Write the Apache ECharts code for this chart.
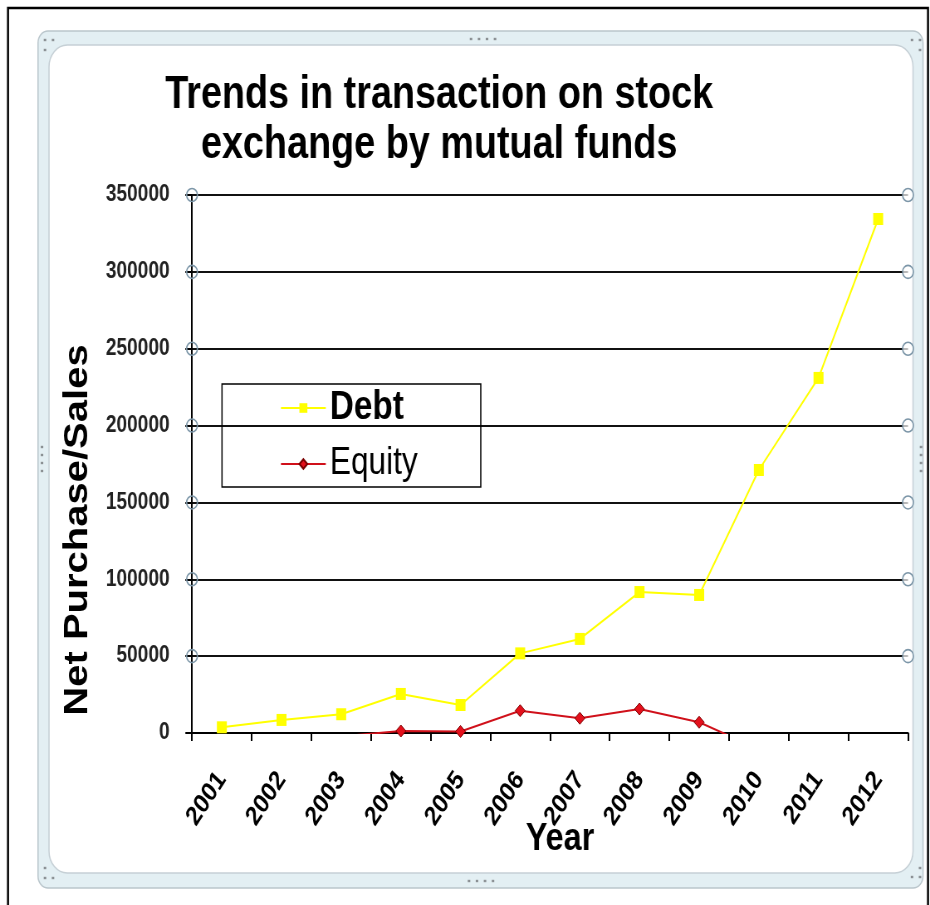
<!DOCTYPE html>
<html>
<head>
<meta charset="utf-8">
<script src="https://cdn.jsdelivr.net/npm/echarts@6/dist/echarts.min.js"></script>
<style>
html,body{margin:0;padding:0;background:#fff;}
#wrap{width:930px;height:905px;overflow:hidden;position:relative;}
#main{width:1120px;height:905px;transform:scaleX(0.830357);transform-origin:0 0;}
</style>
</head>
<body>
<div id="wrap"><div id="main"></div></div>
<script>
// ---- data ----
var categories = ['2001','2002','2003','2004','2005','2006','2007','2008','2009','2010','2011','2012'];
var debtValues = [3700, 8500, 12200, 25400, 18200, 51800, 61200, 91700, 89800, 171100, 231000, 334400];
var equityValues = [-3800, -2000, -2200, 1300, 1000, 14500, 9600, 15600, 7000, -10500, -17000, -2000];
var yTickValues = [0, 50000, 100000, 150000, 200000, 250000, 300000, 350000];
var titleText = 'Trends in transaction on stock\nexchange by mutual funds';
var yName = 'Net Purchase/Sales';
var xName = 'Year';

// ---- layout helpers ----
var W = 1120, S = 930 / W;
function px(x) { return x / S; }
var GRID_L = px(192), GRID_R = W - px(908), GRID_T = 195, GRID_B = 905 - 733;
var FONT = 'Liberation Sans, Arial, sans-serif';

var chart = echarts.init(document.getElementById('main'), null, {renderer: 'canvas'});

function frameGraphics() {
  var g = [];
  g.push({type:'rect', z:-10, shape:{x:px(8), y:8, width:px(928)-px(8), height:930}, style:{fill:'#fff', stroke:'#000', lineWidth:2.5}});
  g.push({type:'rect', z:-9, shape:{x:px(38), y:31, width:px(923)-px(38), height:857, r:12}, style:{fill:'#E3EFF3', stroke:'#BAC6CC', lineWidth:1.5}});
  g.push({type:'rect', z:-8, shape:{x:px(49), y:45, width:px(913)-px(49), height:828, r:22}, style:{fill:'#fff', stroke:'#C6D0D6', lineWidth:1.5}});
  var dots = [[45,40],[53,40],[45,50],[471,39],[479,39],[487,39],[495,39],[912,40],[920,40],[920,50],
              [42,447],[42,455],[42,463],[42,471],[921,447],[921,455],[921,463],[921,471],
              [45,868],[45,878],[53,878],[469,881],[477,881],[485,881],[493,881],[920,868],[912,877],[920,877]];
  dots.forEach(function(d){
    g.push({type:'rect', z:20, shape:{x:px(d[0])-1.5, y:d[1]-1.2, width:3, height:2.4}, style:{fill:'#8a8f93'}});
  });
  return g;
}

var option = {
  animation: false,
  backgroundColor: 'transparent',
  title: {
    text: titleText,
    left: px(435), top: 65, textAlign: 'center',
    textStyle: {fontFamily: FONT, fontSize: 45.5, fontWeight: 'bold', lineHeight: 50, color: '#000'}
  },
  legend: {
    orient: 'vertical',
    left: px(222), top: 384,
    padding: [2, 76, 4, 70],
    itemGap: 15,
    itemWidth: 54, itemHeight: 12,
    borderColor: '#000', borderWidth: 1.5, backgroundColor: 'transparent',
    data: [
      {name: 'Debt', textStyle: {fontFamily: FONT, fontSize: 40, fontWeight: 'bold', lineHeight: 44, color: '#000'}},
      {name: 'Equity', textStyle: {fontFamily: FONT, fontSize: 38, fontWeight: 'normal', lineHeight: 36, color: '#000'}}
    ]
  },
  grid: {left: GRID_L, right: GRID_R, top: GRID_T, bottom: GRID_B, containLabel: false},
  xAxis: {
    type: 'category',
    data: categories,
    boundaryGap: true,
    name: xName,
    nameLocation: 'middle',
    nameMoveOverlap: false,
    nameGap: 87,
    nameTextStyle: {fontFamily: FONT, fontSize: 39, fontWeight: 'bold', color: '#000', padding: [0, 0, 0, 24]},
    axisLine: {lineStyle: {color: '#000', width: 2}},
    axisTick: {show: true, length: 8, alignWithLabel: false, lineStyle: {color: '#000', width: 2}},
    axisLabel: {rotate: 52, margin: 42, fontFamily: FONT, fontSize: 27, fontWeight: 'bold', color: '#000', interval: 0},
    splitLine: {show: false}
  },
  yAxis: {
    type: 'value',
    min: 0, max: 350000, interval: 50000,
    name: yName,
    nameLocation: 'middle',
    nameGap: 117,
    nameTextStyle: {fontFamily: FONT, fontSize: 40, fontWeight: 'bold', color: '#000', padding: [0, 132, 0, 0]},
    axisLine: {show: true, lineStyle: {color: '#000', width: 2}},
    axisTick: {show: true, length: 8, lineStyle: {color: '#000', width: 2}},
    axisLabel: {margin: 27, fontFamily: FONT, fontSize: 23, fontWeight: 'bold', color: '#222',
      formatter: function(v){ return String(v); }},
    splitLine: {show: true, lineStyle: {color: '#111', width: 2}}
  },
  series: [
    {
      name: 'Debt', type: 'line', data: debtValues,
      symbol: 'rect', symbolSize: 12, clip: true,
      itemStyle: {color: '#FFFF00'},
      lineStyle: {color: '#FFFF00', width: 2},
      z: 3
    },
    {
      name: 'Equity', type: 'line', data: equityValues,
      symbol: 'diamond', symbolSize: 12, clip: true,
      itemStyle: {color: '#E3101C', borderColor: '#7a0000', borderWidth: 1},
      lineStyle: {color: '#D0101A', width: 2},
      z: 4
    }
  ],
  graphic: frameGraphics()
};

chart.setOption(option);

// selection-handle circles at the ends of the gridlines, placed through the axis scale
var handles = [];
yTickValues.forEach(function(v){
  if (v === 0) return;
  var y = chart.convertToPixel({yAxisIndex: 0}, v);
  handles.push({type:'circle', z:15, shape:{cx:GRID_L, cy:y, r:6.5}, style:{fill:'none', stroke:'#7C96A8', lineWidth:1.6}});
  handles.push({type:'circle', z:15, shape:{cx:W-GRID_R, cy:y, r:6.5}, style:{fill:'rgba(255,255,255,0.7)', stroke:'#7C96A8', lineWidth:1.6}});
});
chart.setOption({graphic: frameGraphics().concat(handles)}, {replaceMerge: ['graphic']});
</script>
</body>
</html>
